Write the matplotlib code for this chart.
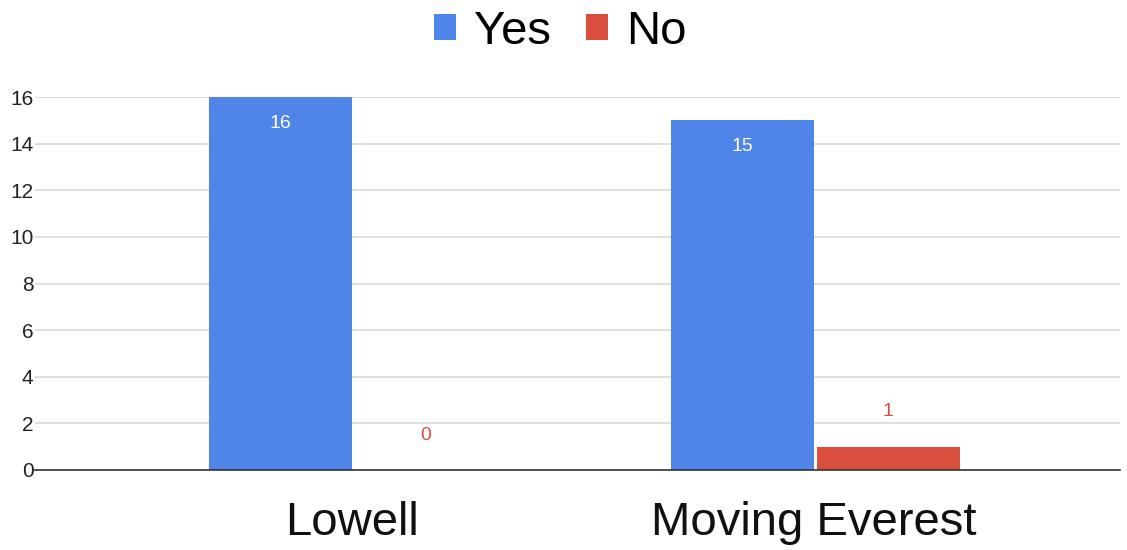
import matplotlib as mpl
from matplotlib import pyplot as plt
from matplotlib.patches import Patch
import numpy as np

# ---- data ----
categories = ["Lowell", "Moving Everest"]
yes_values = [16, 15]
no_values = [0, 1]
y_ticks = [0, 2, 4, 6, 8, 10, 12, 14, 16]

blue = "#4F84E8"
red = "#DA4E3E"

mpl.rcParams.update({
    "font.family": ["Liberation Sans", "DejaVu Sans"],
    "figure.facecolor": "white",
})

fig = plt.figure(figsize=(11.27, 5.5), dpi=100)
ax = fig.add_axes([0.031, 0.1455, 0.963, 0.678])

x = np.arange(len(categories))
width = 0.31

bars_yes = ax.bar(x - width / 2, yes_values, width, color=blue, zorder=3)
bars_no = ax.bar(x + width / 2 + 0.005, no_values, width, color=red, zorder=3)

# value labels: inside the top for Yes, above the bar for No
for b, v in zip(bars_yes, yes_values):
    ax.annotate(str(v), (b.get_x() + b.get_width() / 2, v),
                xytext=(0, -13), textcoords="offset points",
                ha="center", va="top", fontsize=14, color="white", zorder=4)
for b, v in zip(bars_no, no_values):
    ax.annotate(str(v), (b.get_x() + b.get_width() / 2, v),
                xytext=(0, 19), textcoords="offset points",
                ha="center", va="bottom", fontsize=14, color=red, zorder=4)

ax.set_xlim(-0.686, 1.662)
ax.set_ylim(0, 16)
ax.set_yticks(y_ticks)
ax.set_yticklabels([str(t) for t in y_ticks], fontsize=15, color="#222222")
ax.set_xticks(x)
ax.set_xticklabels(categories, fontsize=34, color="#111111")
ax.tick_params(axis="both", length=0)
ax.tick_params(axis="x", pad=22)
ax.tick_params(axis="y", pad=1)

ax.grid(axis="y", color="#D9D9D9", linewidth=1.2, zorder=0)
for side in ("top", "right", "left"):
    ax.spines[side].set_visible(False)
ax.spines["bottom"].set_color("#333333")
ax.spines["bottom"].set_linewidth(1.2)
ax.spines["bottom"].set_zorder(5)

handles = [Patch(facecolor=blue, label="Yes"), Patch(facecolor=red, label="No")]
fig.legend(handles=handles, loc="center", bbox_to_anchor=(0.497, 0.942),
           ncol=2, frameon=False, fontsize=34, handlelength=0.47,
           handleheight=0.47, handletextpad=0.38, columnspacing=0.75)

fig.savefig("out.png", dpi=100)
